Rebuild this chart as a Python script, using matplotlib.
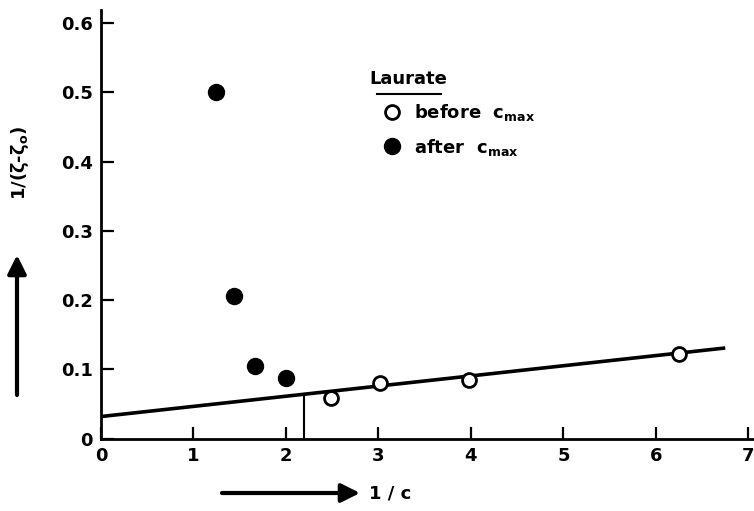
import matplotlib
matplotlib.use("Agg")
import matplotlib.pyplot as plt
import numpy as np

# values
before_x = [2.49, 3.02, 3.98, 6.25]
before_y = [0.059, 0.080, 0.085, 0.123]
after_x = [1.24, 1.44, 1.67, 2.00]
after_y = [0.500, 0.206, 0.105, 0.087]
fit_x = [0.0, 6.75]
fit_y = [0.032, 0.131]
cut_x = 2.2  # intercept marker (vertical line to fit)
xticks = [0, 1, 2, 3, 4, 5, 6, 7]
yticks = [0, 0.1, 0.2, 0.3, 0.4, 0.5, 0.6]
ytick_labels = ["0", "0.1", "0.2", "0.3", "0.4", "0.5", "0.6"]

plt.rcParams["font.family"] = "DejaVu Sans"
plt.rcParams["font.weight"] = "bold"
plt.rcParams["mathtext.default"] = "regular"

fig = plt.figure(figsize=(7.54, 5.11), dpi=100)
ax = fig.add_axes([101 / 754, 1 - 438.7 / 511, 652 / 754, 428.7 / 511])

ax.plot(fit_x, fit_y, color="black", lw=2.6, solid_capstyle="butt", zorder=2)
cut_y = np.interp(cut_x, fit_x, fit_y)
ax.plot([cut_x, cut_x], [0, cut_y], color="black", lw=1.5, zorder=2)

ax.plot(before_x, before_y, "o", ms=10, mfc="white", mec="black", mew=2,
        ls="none", zorder=3, label=r"before  c$_{max}$")
ax.plot(after_x, after_y, "o", ms=11.5, mfc="black", mec="black",
        ls="none", zorder=3, label=r"after  c$_{max}$")

ax.set_xlim(0, 7.05)
ax.set_ylim(0, 0.619)
ax.set_xticks(xticks)
ax.set_yticks(yticks)
ax.set_yticklabels(ytick_labels)
for s in ("top", "right"):
    ax.spines[s].set_visible(False)
for s in ("left", "bottom"):
    ax.spines[s].set_linewidth(2)
ax.tick_params(direction="in", length=9, width=1.6, labelsize=13, pad=6)

# title-like label with underline
ax.text(3.32, 0.52, "Laurate", ha="center", va="center", fontsize=13)
ax.plot([2.98, 3.68], [0.498, 0.498], color="black", lw=1.5, clip_on=False)

leg = ax.legend(loc="center left", bbox_to_anchor=((383 - 101) / 652, (438.7 - 130) / 428.7),
                frameon=False, fontsize=13, handletextpad=0.7, labelspacing=0.75,
                borderaxespad=0, borderpad=0, handlelength=1.0)

fig.text(390 / 754, 1 - 493 / 511, "1 / c", ha="center", va="center", fontsize=13)
fig.text(20 / 754, 1 - 163 / 511, r"1/(ζ-ζ$_o$)", rotation=90,
         ha="center", va="center", fontsize=13)

arrow = dict(arrowstyle="-|>", lw=3, mutation_scale=28, color="black",
             shrinkA=0, shrinkB=0)
ax.annotate("", xy=(17 / 754, 1 - 255 / 511), xytext=(17 / 754, 1 - 395 / 511),
            xycoords="figure fraction", arrowprops=arrow)
ax.annotate("", xy=(360 / 754, 1 - 493 / 511), xytext=(222 / 754, 1 - 493 / 511),
            xycoords="figure fraction", arrowprops=arrow)

fig.savefig("out.png", dpi=100)
